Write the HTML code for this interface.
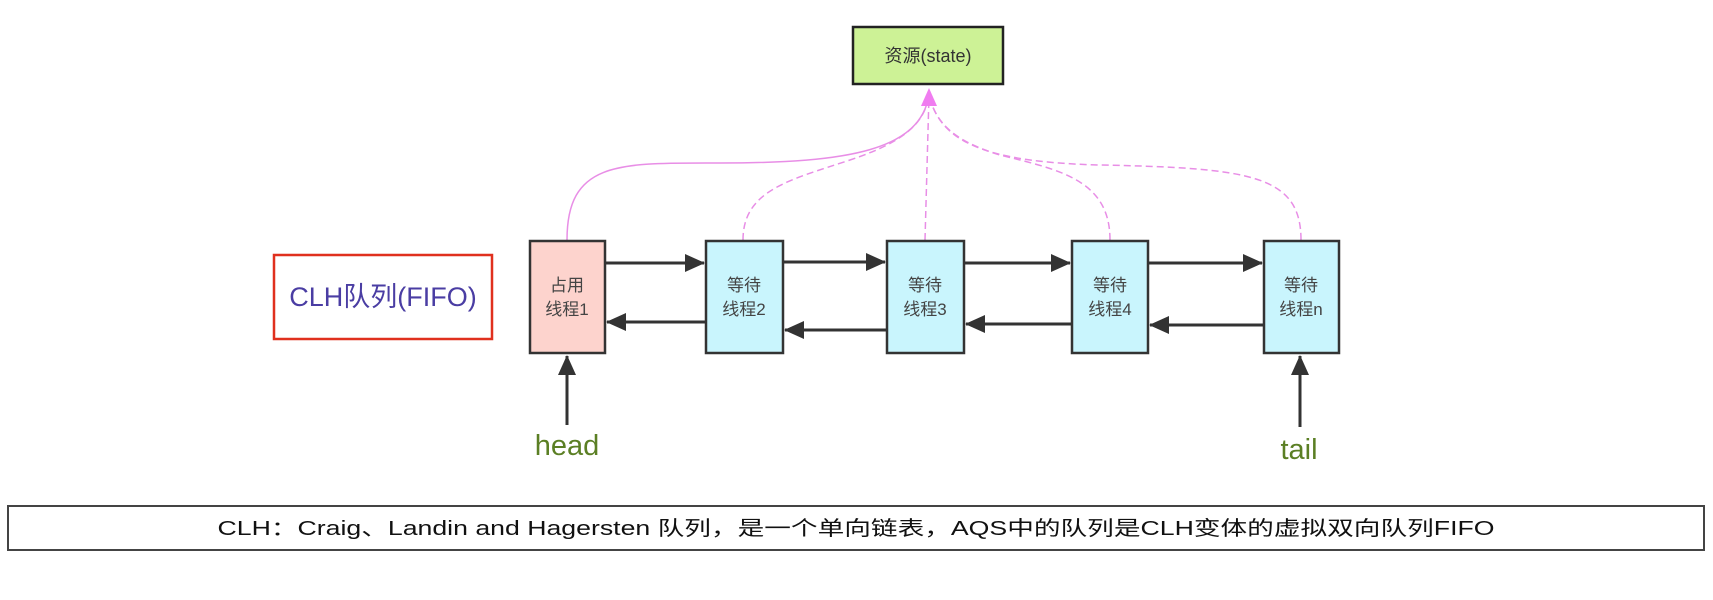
<!DOCTYPE html>
<html><head><meta charset="utf-8"><style>
html,body{margin:0;padding:0;background:#fff;}
svg{display:block}
text{font-family:"Liberation Sans","Noto Sans CJK SC",sans-serif;}
</style></head><body>
<svg width="1713" height="600" viewBox="0 0 1713 600" xmlns="http://www.w3.org/2000/svg">
<defs>
<marker id="ahb" markerWidth="20" markerHeight="18" refX="19" refY="9" orient="auto" markerUnits="userSpaceOnUse"><path d="M0,0 L20,9 L0,18 z" fill="#333"/></marker>
</defs>
<g fill="none" stroke="#e88ee6" stroke-width="1.5">
<path d="M567,240 C567,160 620,163 720,163 C850,163 920,150 929,95"/>
<path d="M743,240 C743,190 790,180 850,160 C910,140 925,120 929,95" stroke-dasharray="7,4"/>
<path d="M925,240 L929,95" stroke-dasharray="7,4"/>
<path d="M1110,240 C1110,180 1060,170 1000,155 C950,140 935,120 929,95" stroke-dasharray="7,4"/>
<path d="M1301,240 C1301,175 1250,168 1100,165 C980,162 940,140 929,95" stroke-dasharray="7,4"/>
</g>
<path d="M929,88 L921,106 L937,106 z" fill="#f07cf0"/>
<rect x="853" y="27" width="150" height="57" fill="#cdf296" stroke="#222" stroke-width="2.5"/>
<text x="928" y="62" font-size="18" text-anchor="middle" fill="#333">资源(state)</text>
<rect x="274" y="255" width="218" height="84" fill="#fff" stroke="#e0301e" stroke-width="2.5"/>
<text x="383" y="306" font-size="27" text-anchor="middle" fill="#4a3da3">CLH队列(FIFO)</text>
<g stroke="#333" stroke-width="2.5">
<rect x="530" y="241" width="75" height="112" fill="#fdd3cd"/>
<rect x="706" y="241" width="77" height="112" fill="#c9f5fd"/>
<rect x="887" y="241" width="77" height="112" fill="#c9f5fd"/>
<rect x="1072" y="241" width="76" height="112" fill="#c9f5fd"/>
<rect x="1264" y="241" width="75" height="112" fill="#c9f5fd"/>
</g>
<g font-size="17" text-anchor="middle" fill="#444">
<text x="567" y="291">占用</text><text x="567" y="315">线程1</text>
<text x="744" y="291">等待</text><text x="744" y="315">线程2</text>
<text x="925" y="291">等待</text><text x="925" y="315">线程3</text>
<text x="1110" y="291">等待</text><text x="1110" y="315">线程4</text>
<text x="1301" y="291">等待</text><text x="1301" y="315">线程n</text>
</g>
<g stroke="#333" stroke-width="3" fill="none">
<line x1="606" y1="263" x2="704" y2="263" marker-end="url(#ahb)"/>
<line x1="784" y1="262" x2="885" y2="262" marker-end="url(#ahb)"/>
<line x1="965" y1="263" x2="1070" y2="263" marker-end="url(#ahb)"/>
<line x1="1149" y1="263" x2="1262" y2="263" marker-end="url(#ahb)"/>
<line x1="705" y1="322" x2="607" y2="322" marker-end="url(#ahb)"/>
<line x1="886" y1="330" x2="785" y2="330" marker-end="url(#ahb)"/>
<line x1="1071" y1="324" x2="966" y2="324" marker-end="url(#ahb)"/>
<line x1="1263" y1="325" x2="1150" y2="325" marker-end="url(#ahb)"/>
<line x1="567" y1="425" x2="567" y2="356" marker-end="url(#ahb)"/>
<line x1="1300" y1="427" x2="1300" y2="356" marker-end="url(#ahb)"/>
</g>
<text x="567" y="455" font-size="29" text-anchor="middle" fill="#5b7f24">head</text>
<text x="1299" y="459" font-size="29" text-anchor="middle" fill="#5b7f24">tail</text>
<rect x="8" y="506" width="1696" height="44" fill="#fff" stroke="#444" stroke-width="2"/>
<text x="856" y="535" font-size="20" text-anchor="middle" fill="#111" textLength="1277" lengthAdjust="spacingAndGlyphs">CLH：Craig、Landin and Hagersten 队列，是一个单向链表，AQS中的队列是CLH变体的虚拟双向队列FIFO</text>
</svg>
</body></html>
